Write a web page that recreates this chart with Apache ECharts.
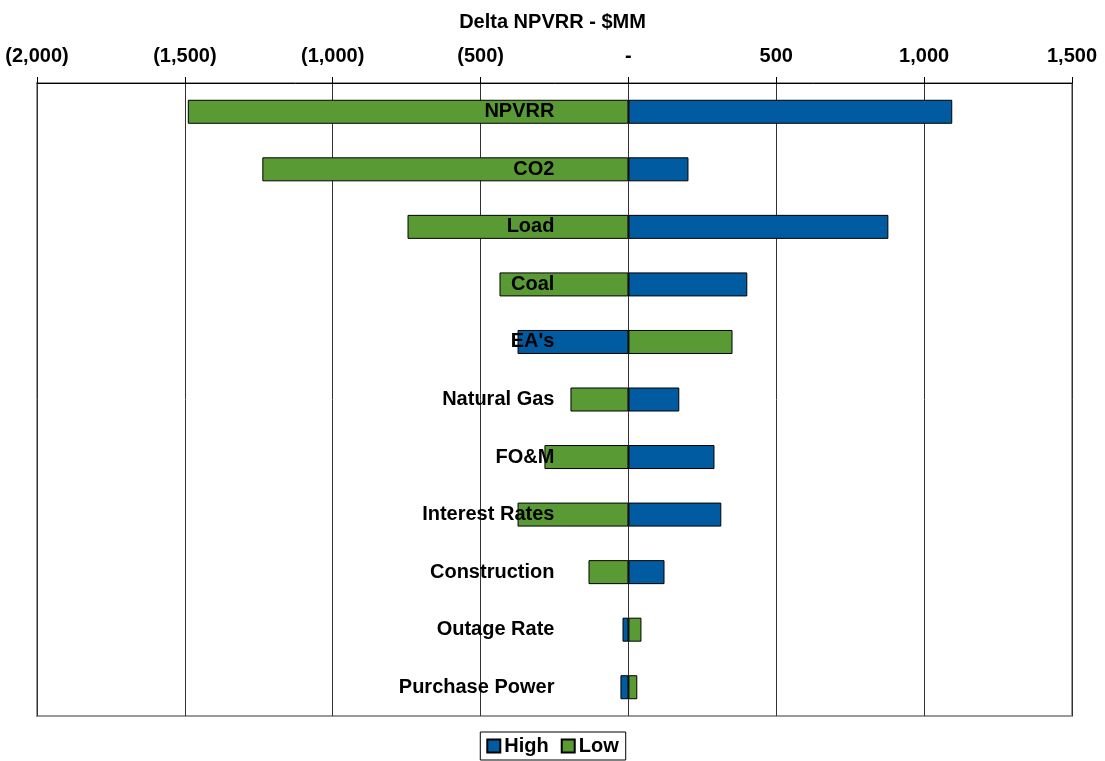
<!DOCTYPE html>
<html>
<head>
<meta charset="utf-8">
<script src="https://cdn.jsdelivr.net/npm/echarts@6/dist/echarts.min.js"></script>
<style>
    html, body { margin: 0; padding: 0; background: #fff; }
    #chart { width: 1105px; height: 761px; }
</style>
</head>
<body>
<div id="chart"></div>
<script>
// 敏感性因素（自上而下）
const categories = ['NPVRR', 'CO2', 'Load', 'Coal', "EA's", 'Natural Gas', 'FO&M',
    'Interest Rates', 'Construction', 'Outage Rate', 'Purchase Power']
// High / Low 情景的 Delta NPVRR（$MM）
const highValues = [1095, 203, 879, 402, -375, 172, 291, 314, 122, -20, -27]
const lowValues = [-1490, -1238, -747, -436, 352, -196, -284, -375, -135, 44, 30]
const tickMin = -2000
const tickMax = 1500
const tickStep = 500

const fontFamily = '"Liberation Sans", Arial, sans-serif'
const gridLeft = 37
const gridRight = 33
const plotWidth = 1105 - gridLeft - gridRight
// 零点距绘图区左侧的像素距离，用来把分类标签挪到 0 轴附近
const zeroOffset = (0 - tickMin) / (tickMax - tickMin) * plotWidth

// 会计格式：负数加括号，零显示为 -
function fmt(v) {
    if (v === 0) return '-'
    const s = Math.abs(v).toLocaleString('en-US')
    return v < 0 ? '(' + s + ')' : s
}

let chart = echarts.init(document.getElementById('chart'))
chart.setOption({
    animation: false,
    textStyle: { fontFamily },
    title: {
        text: 'Delta NPVRR - $MM',
        left: 'center',
        top: 7,
        textStyle: { fontSize: 20, fontWeight: 'bold', color: '#000', fontFamily }
    },
    legend: {
        bottom: 1,
        left: 'center',
        data: ['High', 'Low'],
        icon: 'rect',
        itemWidth: 13,
        itemHeight: 13,
        itemGap: 12,
        borderColor: '#000',
        borderWidth: 1,
        borderRadius: 0,
        padding: [4, 7, 4, 6],
        textStyle: { fontSize: 20, fontWeight: 'bold', color: '#000', fontFamily, padding: [0, 0, 0, -1] }
    },
    grid: {
        left: gridLeft,
        right: gridRight,
        top: 83,
        bottom: 45,
        outerBoundsMode: 'none',
        containLabel: false,
        show: true,
        borderColor: '#999',
        borderWidth: 2
    },
    xAxis: {
        type: 'value',
        position: 'top',
        min: tickMin,
        max: tickMax,
        interval: tickStep,
        axisLine: { show: true, onZero: false, lineStyle: { color: '#000', width: 1 } },
        axisTick: { show: true, length: 6, lineStyle: { color: '#000' } },
        axisLabel: {
            formatter: fmt,
            fontSize: 20,
            fontWeight: 'bold',
            color: '#000',
            margin: 17,
            fontFamily
        },
        splitLine: { show: true, lineStyle: { color: '#333', width: 1 } }
    },
    yAxis: {
        type: 'category',
        inverse: true,
        data: categories,
        position: 'left',
        offset: -zeroOffset,
        z: 10,
        axisLine: { show: false },
        axisTick: { show: false },
        axisLabel: {
            margin: 74,
            fontSize: 20,
            fontWeight: 'bold',
            color: '#000',
            fontFamily
        },
        splitLine: { show: false }
    },
    series: [
        {
            name: 'High',
            type: 'bar',
            stack: 'total',
            barWidth: 24,
            data: highValues,
            itemStyle: { color: '#005BA1', borderColor: '#000', borderWidth: 1 }
        },
        {
            name: 'Low',
            type: 'bar',
            stack: 'total',
            barWidth: 24,
            data: lowValues,
            itemStyle: { color: '#5A9A35', borderColor: '#000', borderWidth: 1 }
        }
    ]
})
</script>
</body>
</html>
